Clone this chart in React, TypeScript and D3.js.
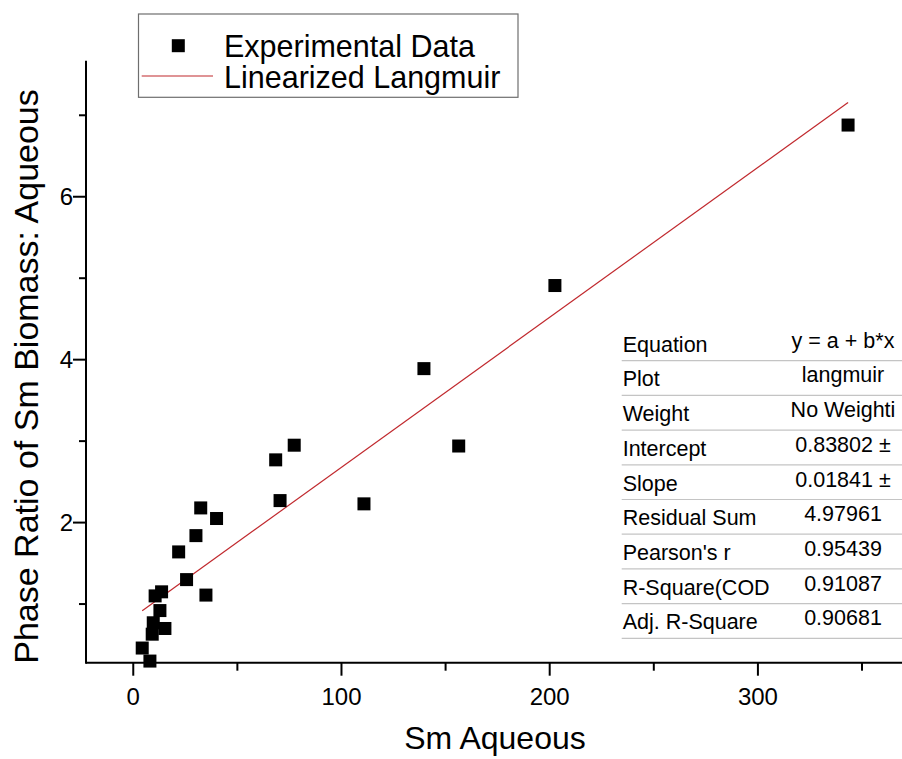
import React from "react";
import * as d3 from "d3";

const xData = [4.3, 8.0, 9.1, 9.6, 10.5, 13.6, 12.8, 15.2, 21.8, 25.6, 30.1, 32.4, 40.0, 34.9, 68.4, 70.5, 77.3, 110.8, 139.6, 156.3, 202.5, 343.3];
const yData = [0.46, 0.30, 0.63, 0.77, 1.10, 1.15, 0.92, 0.70, 1.64, 1.30, 1.84, 2.18, 2.05, 1.11, 2.77, 2.27, 2.95, 2.23, 3.89, 2.94, 4.91, 6.88];

const intercept = 0.83802;
const slope = 0.01841;

const xMajor = [0, 100, 200, 300];
const xMinor = [50, 150, 250, 350];
const yMajor = [2, 4, 6];
const yMinor = [1, 3, 5, 7];

const tableLabels = ["Equation", "Plot", "Weight", "Intercept", "Slope", "Residual Sum", "Pearson's r", "R-Square(COD", "Adj. R-Square"];
const tableValues = ["y = a + b*x", "langmuir", "No Weighti", "0.83802 ±", "0.01841 ±", "4.97961", "0.95439", "0.91087", "0.90681"];

const legendLabels = ["Experimental Data", "Linearized Langmuir"];

export default function App() {
  const W = 902, H = 759;
  const left = 86, right = 902, top = 60.7, bottom = 662.7;
  const x = d3.scaleLinear().domain([-22.7, 369.2]).range([left, right]);
  const y = d3.scaleLinear().domain([0.28, 7.67]).range([bottom, top]);
  const font = "Arial, 'Liberation Sans', sans-serif";

  const xMin = d3.min(xData) as number;
  const xMax = d3.max(xData) as number;
  const fitPts: [number, number][] = [xMin, xMax].map((v) => [v, intercept + slope * v]);
  const line = d3.line<[number, number]>().x((d) => x(d[0])).y((d) => y(d[1]));

  const ms = 13;
  const rowH = 34.7;
  const tableTop = 326;

  return (
    <div style={{ position: "absolute", left: 0, top: 0 }}>
      <svg width={W} height={H} style={{ display: "block", background: "#fff" }} fontFamily={font}>
        <rect x={0} y={0} width={W} height={H} fill="#fff" />
        {/* fit line */}
        <path d={line(fitPts) || ""} stroke="#c0282d" strokeWidth={1.2} fill="none" />
        {/* points */}
        {xData.map((xv, i) => (
          <rect key={i} x={x(xv) - ms / 2} y={y(yData[i]) - ms / 2} width={ms} height={ms} fill="#000" />
        ))}
        {/* axes */}
        <line x1={left} x2={right} y1={bottom} y2={bottom} stroke="#000" strokeWidth={2} />
        <line x1={left} x2={left} y1={top} y2={bottom + 1} stroke="#000" strokeWidth={2} />
        {xMajor.map((v) => (
          <g key={"xM" + v}>
            <line x1={x(v)} x2={x(v)} y1={bottom} y2={bottom + 13} stroke="#000" strokeWidth={2} />
            <text x={x(v)} y={705} fontSize={24} textAnchor="middle">{v}</text>
          </g>
        ))}
        {xMinor.map((v) => (
          <line key={"xm" + v} x1={x(v)} x2={x(v)} y1={bottom} y2={bottom + 8} stroke="#000" strokeWidth={2} />
        ))}
        {yMajor.map((v) => (
          <g key={"yM" + v}>
            <line x1={left - 13} x2={left} y1={y(v)} y2={y(v)} stroke="#000" strokeWidth={2} />
            <text x={73} y={y(v) + 8.6} fontSize={24} textAnchor="end">{v}</text>
          </g>
        ))}
        {yMinor.map((v) => (
          <line key={"ym" + v} x1={left - 7} x2={left} y1={y(v)} y2={y(v)} stroke="#000" strokeWidth={2} />
        ))}
        {/* axis titles */}
        <text x={495} y={749} fontSize={32} textAnchor="middle">Sm Aqueous</text>
        <text transform={`translate(38, ${(88 + 665) / 2}) rotate(-90)`} fontSize={34} textAnchor="middle">
          Phase Ratio of Sm Biomass: Aqueous
        </text>
        {/* legend */}
        <rect x={138.5} y={14} width={379.5} height={83.3} fill="#fff" stroke="#6e6e6e" strokeWidth={1.2} />
        <rect x={178.3 - ms / 2} y={45.7 - ms / 2} width={ms} height={ms} fill="#000" />
        <line x1={141.7} x2={213} y1={76} y2={76} stroke="#c0282d" strokeWidth={1.2} />
        <text x={224} y={56.5} fontSize={30.5}>{legendLabels[0]}</text>
        <text x={224} y={87.5} fontSize={30.5}>{legendLabels[1]}</text>
        {/* table */}
        {tableLabels.map((lab, i) => {
          const rb = tableTop + rowH * (i + 1);
          return (
            <g key={"t" + i}>
              <line x1={621.7} x2={902} y1={rb} y2={rb} stroke="#c4c4c4" strokeWidth={1.2} />
              <text x={622.7} y={rb - 9} fontSize={21.5}>{lab}</text>
              <text x={843} y={rb - 13} fontSize={21.5} textAnchor="middle">{tableValues[i]}</text>
            </g>
          );
        })}
      </svg>
    </div>
  );
}
